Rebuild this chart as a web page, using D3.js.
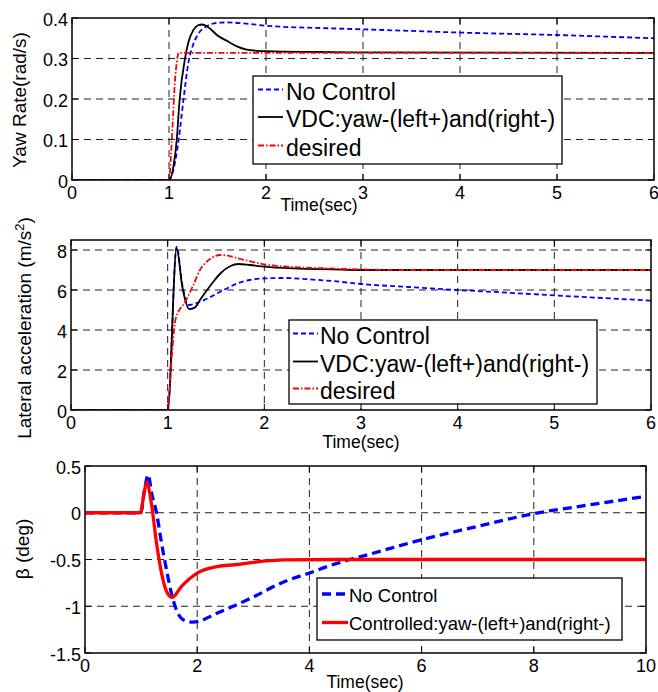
<!DOCTYPE html>
<html><head><meta charset="utf-8">
<script src="https://cdn.jsdelivr.net/npm/d3@7"></script>
<style>body{margin:0;background:#fff}svg{display:block;font-family:"Liberation Sans",Arial,Helvetica,sans-serif}</style>
</head><body><svg id="c" width="658" height="692"></svg>
<script>
// ---------- DATA ----------
// Panel 1: yaw rate (rad/s) vs time (sec)
const yawNoControl = [[0,0],[1.0,0],[1.05,0.03],[1.1,0.1],[1.15,0.2],[1.2,0.29],[1.25,0.335],[1.3,0.36],[1.4,0.381],[1.5,0.388],[1.6,0.389],[1.8,0.386],[2.0,0.381],[2.3,0.377],[2.6,0.375],[3.0,0.372],[3.5,0.368],[4.0,0.364],[4.5,0.361],[5.0,0.358],[5.5,0.354],[6.0,0.350]];
const yawVDC = [[0,0],[1.0,0],[1.05,0.04],[1.08,0.1],[1.11,0.2],[1.165,0.3],[1.2,0.34],[1.25,0.37],[1.3,0.382],[1.34,0.384],[1.4,0.378],[1.5,0.357],[1.6,0.343],[1.7,0.330],[1.8,0.322],[1.9,0.319],[2.0,0.318],[2.5,0.316],[3.0,0.315],[6.0,0.314]];
const yawDesired = [[0,0],[1.0,0],[1.02,0.06],[1.04,0.15],[1.06,0.24],[1.08,0.29],[1.1,0.314],[6.0,0.314]];
const yawXTicks = [0,1,2,3,4,5,6];
const yawYTicks = [0,0.1,0.2,0.3,0.4];

// Panel 2: lateral acceleration (m/s^2) vs time (sec)
const latNoControl = [[0,0],[1.0,0],[1.093,8.17],[1.15,6.3],[1.214,5.25],[1.3,5.35],[1.4,5.55],[1.5,5.8],[1.6,6.05],[1.72,6.33],[1.85,6.5],[2.0,6.58],[2.2,6.6],[2.5,6.52],[2.7,6.45],[3.0,6.3],[3.5,6.15],[4.0,6.0],[4.5,5.87],[5.0,5.73],[5.5,5.6],[6.0,5.47]];
const latVDC = [[0,0],[1.0,0],[1.093,8.1],[1.15,6.2],[1.224,5.05],[1.28,5.12],[1.334,5.5],[1.4,5.95],[1.47,6.4],[1.55,6.85],[1.65,7.2],[1.73,7.3],[1.85,7.25],[2.0,7.17],[2.3,7.08],[2.7,7.03],[3.0,7.0],[6.0,7.0]];
const latDesired = [[0,0],[1.0,0],[1.04,2.5],[1.08,4.5],[1.12,5.0],[1.16,5.25],[1.2,5.58],[1.27,6.3],[1.334,7.0],[1.4,7.4],[1.47,7.65],[1.54,7.75],[1.62,7.72],[1.75,7.55],[1.9,7.38],[2.0,7.28],[2.3,7.15],[2.68,7.08],[3.0,7.03],[3.5,7.0],[6.0,7.0]];
const latXTicks = [0,1,2,3,4,5,6];
const latYTicks = [0,2,4,6,8];

// Panel 3: sideslip beta (deg) vs time (sec)
const betaNoControl = [[0,0],[1.0,0],[1.05,0.2],[1.127,0.406],[1.187,0.21],[1.275,0],[1.364,-0.324],[1.453,-0.61],[1.54,-0.86],[1.63,-1.04],[1.75,-1.145],[1.93,-1.17],[2.37,-1.07],[2.97,-0.91],[3.56,-0.735],[4.0,-0.645],[4.36,-0.567],[4.72,-0.5],[5.0,-0.455],[6.0,-0.289],[7.0,-0.145],[8.0,-0.01],[9.0,0.085],[10.0,0.175]];
const betaControlled = [[0,0],[0.98,0],[1.0,0.02],[1.05,0.2],[1.097,0.324],[1.187,0.085],[1.275,-0.324],[1.364,-0.645],[1.453,-0.84],[1.554,-0.906],[1.72,-0.788],[2.0,-0.645],[2.37,-0.574],[2.67,-0.556],[3.0,-0.53],[3.56,-0.505],[4.5,-0.5],[10.0,-0.5]];
const betaXTicks = [0,2,4,6,8,10];
const betaYTicks = [-1.5,-1,-0.5,0,0.5];

// ---------- DRAW ----------
const svg = d3.select("#c");
const FONT = 18;

const panels = [
  {id:"p1", xr:[72,654], yr:[180,18], xd:[0,6], yd:[0,0.4], xt:yawXTicks, yt:yawYTicks,
   series:[
     {name:"No Control", data:yawNoControl, color:"#0000ff", w:1.8, dash:"5,3"},
     {name:"VDC:yaw-(left+)and(right-)", data:yawVDC, color:"#000", w:1.8, dash:null},
     {name:"desired", data:yawDesired, color:"#ff0000", w:1.8, dash:"6,2,1.5,2"}],
   legend:{x:253,y:76,w:309,h:88,l1:258,l2:283,tx:286,rows:[89.5,117,145.5],fs:23,off:10},
   xTitle:{x:319,y:211}, yTitle:{x:26,y:100,parts:[["Yaw Rate(rad/s)"]]}},
  {id:"p2", xr:[71,651], yr:[410,240], xd:[0,6], yd:[0,8.5], xt:latXTicks, yt:latYTicks,
   series:[
     {name:"No Control", data:latNoControl, color:"#0000ff", w:1.8, dash:"5,3"},
     {name:"VDC:yaw-(left+)and(right-)", data:latVDC, color:"#000", w:1.8, dash:null},
     {name:"desired", data:latDesired, color:"#ff0000", w:1.8, dash:"6,2,1.5,2"}],
   legend:{x:289,y:320,w:308,h:84,l1:293,l2:318,tx:320,rows:[333.5,361.5,388.5],fs:23,off:10},
   xTitle:{x:361,y:448}, yTitle:{x:31,y:328,parts:[["Lateral acceleration (m/s"],["2","sup"],[")"]]}},
  {id:"p3", xr:[85,646], yr:[653,466], xd:[0,10], yd:[-1.5,0.5], xt:betaXTicks, yt:betaYTicks,
   series:[
     {name:"No Control", data:betaNoControl, color:"#0000ff", w:3.3, dash:"9,5"},
     {name:"Controlled:yaw-(left+)and(right-)", data:betaControlled, color:"#ff0000", w:3.3, dash:null}],
   legend:{x:317,y:578,w:305,h:62,l1:322,l2:348,tx:349,rows:[594,622.5],fs:18.5,off:7.5},
   xTitle:{x:365,y:688}, yTitle:{x:29,y:549,parts:[["β (deg)"]]}}
];

panels.forEach(p => {
  const x = d3.scaleLinear().domain(p.xd).range(p.xr);
  const y = d3.scaleLinear().domain(p.yd).range(p.yr);
  const g = svg.append("g");
  const [x0,x1] = p.xr, [yb,yt] = p.yr;

  // grid
  p.xt.filter(v => v>p.xd[0] && v<p.xd[1]).forEach(v => {
    g.append("line").attr("x1",x(v)).attr("x2",x(v)).attr("y1",yt).attr("y2",yb)
      .attr("stroke","#222").attr("stroke-width",1).attr("stroke-dasharray","7,5");
  });
  p.yt.filter(v => v>p.yd[0] && v<p.yd[1]).forEach(v => {
    g.append("line").attr("x1",x0).attr("x2",x1).attr("y1",y(v)).attr("y2",y(v))
      .attr("stroke","#222").attr("stroke-width",1).attr("stroke-dasharray","7,5");
  });

  // inward ticks on all sides
  const tl = 6;
  p.xt.forEach(v => {
    g.append("line").attr("x1",x(v)).attr("x2",x(v)).attr("y1",yb).attr("y2",yb-tl).attr("stroke","#000");
    g.append("line").attr("x1",x(v)).attr("x2",x(v)).attr("y1",yt).attr("y2",yt+tl).attr("stroke","#000");
  });
  p.yt.forEach(v => {
    g.append("line").attr("x1",x0).attr("x2",x0+tl).attr("y1",y(v)).attr("y2",y(v)).attr("stroke","#000");
    g.append("line").attr("x1",x1).attr("x2",x1-tl).attr("y1",y(v)).attr("y2",y(v)).attr("stroke","#000");
  });

  // clip + series
  svg.append("clipPath").attr("id","clip-"+p.id).append("rect")
    .attr("x",x0).attr("y",yt).attr("width",x1-x0).attr("height",yb-yt);
  const line = d3.line().x(d=>x(d[0])).y(d=>y(d[1])).curve(d3.curveMonotoneX);
  p.series.forEach(s => {
    g.append("path").attr("d",line(s.data)).attr("fill","none")
      .attr("stroke",s.color).attr("stroke-width",s.w)
      .attr("stroke-dasharray",s.dash).attr("stroke-linejoin","round")
      .attr("clip-path","url(#clip-"+p.id+")");
  });

  // frame
  g.append("rect").attr("x",x0).attr("y",yt).attr("width",x1-x0).attr("height",yb-yt)
    .attr("fill","none").attr("stroke","#000").attr("stroke-width",1.5);

  // tick labels
  p.xt.forEach(v => {
    g.append("text").attr("x",x(v)).attr("y",yb+18.5).attr("text-anchor","middle")
      .attr("font-size",FONT).text(String(v));
  });
  p.yt.forEach(v => {
    g.append("text").attr("x",x0-4).attr("y",y(v)+7.5).attr("text-anchor","end")
      .attr("font-size",FONT).text(String(v));
  });

  // titles
  g.append("text").attr("x",p.xTitle.x).attr("y",p.xTitle.y).attr("text-anchor","middle")
    .attr("font-size",17.5).text("Time(sec)");
  const yt_ = g.append("text").attr("transform",`translate(${p.yTitle.x},${p.yTitle.y}) rotate(-90)`)
    .attr("text-anchor","middle").attr("font-size",19);
  p.yTitle.parts.forEach(pt => {
    if (pt[1]==="sup") yt_.append("tspan").attr("dy",-7).attr("font-size",13).text(pt[0]);
    else if (yt_.selectAll("tspan").size()>0) yt_.append("tspan").attr("dy",7).text(pt[0]);
    else yt_.append("tspan").text(pt[0]);
  });

  // legend
  const L = p.legend;
  g.append("rect").attr("x",L.x).attr("y",L.y).attr("width",L.w).attr("height",L.h)
    .attr("fill","#fff").attr("stroke","#000").attr("stroke-width",1.3);
  p.series.forEach((s,i) => {
    const ry = L.rows[i];
    g.append("line").attr("x1",L.l1).attr("x2",L.l2).attr("y1",ry).attr("y2",ry)
      .attr("stroke",s.color).attr("stroke-width",s.w).attr("stroke-dasharray",s.dash);
    g.append("text").attr("x",L.tx).attr("y",ry+L.off).attr("font-size",L.fs).text(s.name);
  });
});
</script></body></html>
